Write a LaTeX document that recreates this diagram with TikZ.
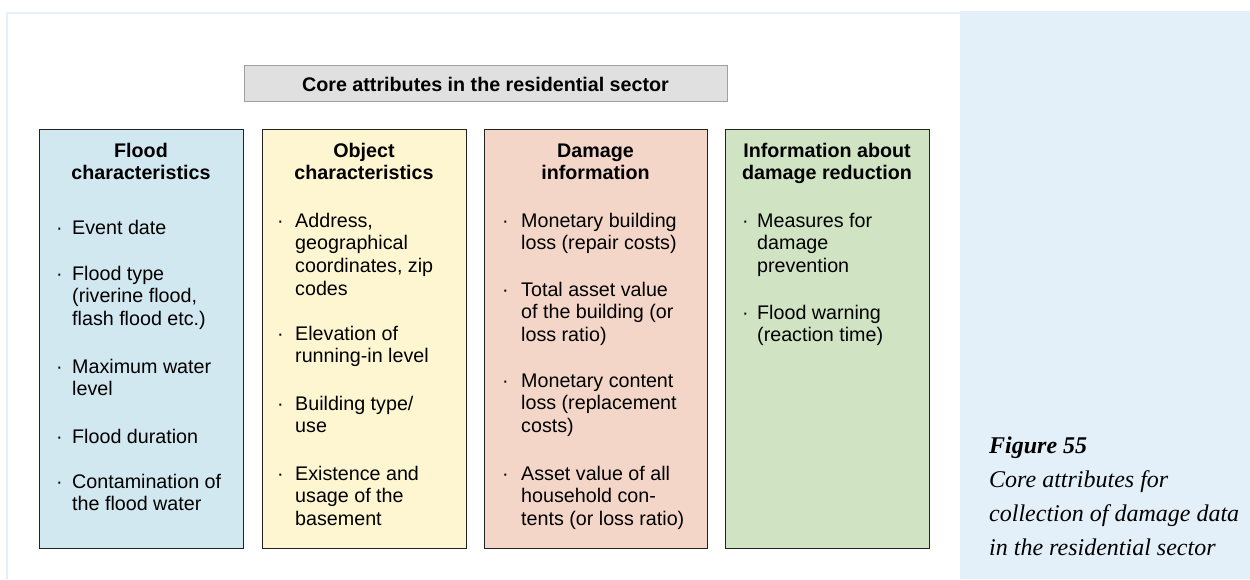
\documentclass[tikz,border=0pt]{standalone}
\usepackage{fontspec}
\setmainfont{Liberation Sans}
\newfontfamily\capfont{Liberation Serif}
\definecolor{panel}{HTML}{E4F0F9}
\definecolor{hdrfill}{HTML}{E0E0E0}
\definecolor{hdrline}{HTML}{A0A0A0}
\definecolor{cblue}{HTML}{D2E8F0}
\definecolor{cyellow}{HTML}{FDF6D0}
\definecolor{cred}{HTML}{F4D6C8}
\definecolor{cgreen}{HTML}{D0E4C3}
\definecolor{bline}{HTML}{222222}
\newcommand{\bodyfont}{\fontsize{19.7}{22.7}\selectfont}
\newcommand{\ml}[1]{\begin{tabular}[t]{@{}l@{}}#1\end{tabular}}
\newcommand{\mc}[1]{\begin{tabular}[t]{@{}c@{}}#1\end{tabular}}
\tikzset{
  colbox/.style={draw=bline, line width=1.3pt, anchor=north west, inner sep=0pt},
  ttl/.style={anchor=base, inner sep=0pt, font=\bodyfont\bfseries},
  itm/.style={anchor=base west, inner sep=0pt, font=\bodyfont},
  bul/.style={anchor=base west, inner sep=0pt, font=\bodyfont},
  capt/.style={anchor=base west, inner sep=0pt, font=\capfont\fontsize{24}{34}\selectfont\itshape}
}
\begin{document}
\begin{tikzpicture}[x=1pt,y=-1pt]
\useasboundingbox (0,0) rectangle (1250,579);
% frame and side panel
\fill[panel] (960,11) rectangle (1250,579);
\draw[panel, line width=2.5pt] (7,579) -- (7,13) -- (960,13);
% header
\node[draw=hdrline, fill=hdrfill, line width=1pt, anchor=north west, minimum width=483pt, minimum height=36pt, inner sep=0pt] (hdr) at (244,65) {};
\node[anchor=base, inner sep=0pt, font=\bodyfont\bfseries] (hdrt) at (485.5,91) {Core attributes in the residential sector};
% boxes
\node[colbox, fill=cblue, minimum width=204pt, minimum height=419pt] (b1) at (39,129) {};
\node[colbox, fill=cyellow, minimum width=204pt, minimum height=419pt] (b2) at (262,129) {};
\node[colbox, fill=cred, minimum width=223pt, minimum height=419pt] (b3) at (484,129) {};
\node[colbox, fill=cgreen, minimum width=204pt, minimum height=419pt] (b4) at (725,129) {};
% titles
\node[ttl] (t1) at (141,157) {\mc{Flood\\characteristics}};
\node[ttl] (t2) at (364,157) {\mc{Object\\characteristics}};
\node[ttl] (t3) at (595.5,157) {\mc{Damage\\information}};
\node[ttl] (t4) at (827,157) {\mc{Information about\\damage reduction}};
% box 1 items
\node[bul] (d11) at (56,234) {·};
\node[itm] (i11) at (72,234) {Event date};
\node[bul] (d12) at (56,280) {·};
\node[itm] (i12) at (72,280) {\ml{Flood type\\(riverine flood,\\flash flood etc.)}};
\node[bul] (d13) at (56,373) {·};
\node[itm] (i13) at (72,373) {\ml{Maximum water\\level}};
\node[bul] (d14) at (56,443) {·};
\node[itm] (i14) at (72,443) {Flood duration};
\node[bul] (d15) at (56,488) {·};
\node[itm] (i15) at (72,488) {\ml{Contamination of\\the flood water}};
% box 2 items
\node[bul] (d21) at (277,227) {·};
\node[itm] (i21) at (295,227) {\ml{Address,\\geographical\\coordinates, zip\\codes}};
\node[bul] (d22) at (277,340) {·};
\node[itm] (i22) at (295,340) {\ml{Elevation of\\running-in level}};
\node[bul] (d23) at (277,410) {·};
\node[itm] (i23) at (295,410) {\ml{Building type/\\use}};
\node[bul] (d24) at (277,480) {·};
\node[itm] (i24) at (295,480) {\ml{Existence and\\usage of the\\basement}};
% box 3 items
\node[bul] (d31) at (502,227) {·};
\node[itm] (i31) at (521,227) {\ml{Monetary building\\loss (repair costs)}};
\node[bul] (d32) at (502,296) {·};
\node[itm] (i32) at (521,296) {\ml{Total asset value\\of the building (or\\loss ratio)}};
\node[bul] (d33) at (502,387) {·};
\node[itm] (i33) at (521,387) {\ml{Monetary content\\loss (replacement\\costs)}};
\node[bul] (d34) at (502,480) {·};
\node[itm] (i34) at (521,480) {\ml{Asset value of all\\household con-\\tents (or loss ratio)}};
% box 4 items
\node[bul] (d41) at (742,227) {·};
\node[itm] (i41) at (757,227) {\ml{Measures for\\damage\\prevention}};
\node[bul] (d42) at (742,319) {·};
\node[itm] (i42) at (757,319) {\ml{Flood warning\\(reaction time)}};
% caption
\node[capt, font=\capfont\fontsize{24}{34}\selectfont\bfseries\itshape] (cap1) at (989,453) {Figure 55};
\node[capt] (cap2) at (989,487) {Core attributes for};
\node[capt] (cap3) at (989,521) {collection of damage data};
\node[capt] (cap4) at (989,555) {in the residential sector};
\end{tikzpicture}
\end{document}
